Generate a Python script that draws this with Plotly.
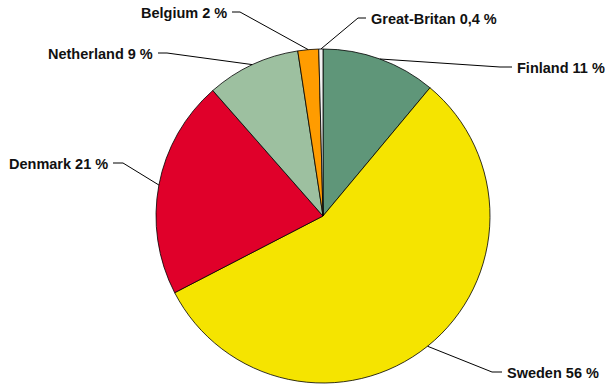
import math
import plotly.graph_objects as go

# Share by country (%), clockwise from 12 o'clock
countries = ["Finland", "Sweden", "Denmark", "Netherland", "Belgium", "Great-Britan"]
shares = [11, 56, 21, 9, 2, 0.4]
share_text = ["11", "56", "21", "9", "2", "0,4"]
colors = ["#5f9679", "#f5e400", "#e0002a", "#9dc0a0", "#ff9c00", "#f2f2f2"]

W, H = 605, 385
CX, CY, R = 323, 216, 167

# label placement: (elbow x, elbow y, text-end x, side)
label_pos = {
    "Finland": (500, 67, 512, "left"),
    "Sweden": (492, 372, 502, "left"),
    "Denmark": (123, 163, 113, "right"),
    "Netherland": (167, 53, 158, "right"),
    "Belgium": (240, 12, 232, "right"),
    "Great-Britan": (358, 18, 366, "left"),
}


def px(x):
    return x / W


def py(y):
    return 1 - y / H


fig = go.Figure(go.Pie(
    labels=countries,
    values=shares,
    sort=False,
    direction="clockwise",
    rotation=0,
    marker=dict(colors=colors, line=dict(color="#000000", width=0.8)),
    textinfo="none",
    hoverinfo="label+percent",
    showlegend=False,
    domain=dict(x=[px(CX - R), px(CX + R)], y=[py(CY + R), py(CY - R)]),
))

total = sum(shares)
cum = 0.0
shapes, annotations = [], []
for name, val, txt in zip(countries, shares, share_text):
    mid = (cum + val / 2) / total * 2 * math.pi
    cum += val
    ax = CX + R * math.sin(mid)
    ay = CY - R * math.cos(mid)
    ex, ey, tx, side = label_pos[name]
    path = f"M {px(ax)} {py(ay)} L {px(ex)} {py(ey)} L {px(tx)} {py(ey)}"
    shapes.append(dict(type="path", xref="paper", yref="paper", path=path,
                       line=dict(color="#000000", width=1)))
    annotations.append(dict(
        x=px(tx + (3 if side == "left" else -3)), y=py(ey + 1),
        xref="paper", yref="paper",
        xanchor=side, yanchor="middle",
        text=f"<b>{name} {txt} %</b>", showarrow=False,
        font=dict(family="Liberation Sans, Arial, sans-serif", size=14.5, color="#111111"),
    ))

fig.update_layout(
    width=W, height=H,
    margin=dict(l=0, r=0, t=0, b=0),
    paper_bgcolor="#ffffff",
    plot_bgcolor="#ffffff",
    shapes=shapes,
    annotations=annotations,
)

fig.write_html("out.html")
